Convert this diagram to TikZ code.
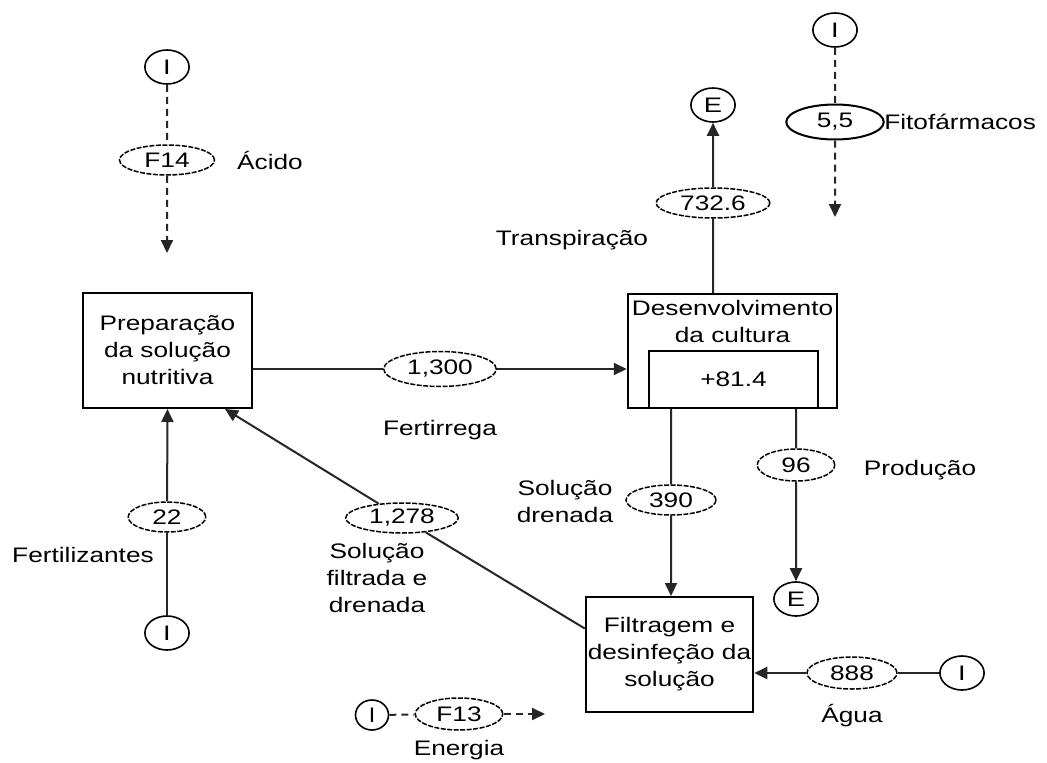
\documentclass[tikz,border=0pt]{standalone}
\usepackage{fontspec}
\setmainfont{Liberation Sans}
\usetikzlibrary{arrows.meta,shapes.geometric,calc}
\begin{document}
\begin{tikzpicture}[x=1pt,y=-1pt,
  every node/.style={font=\fontsize{21}{27}\selectfont, inner sep=0pt, align=center},
  txt/.style={xscale=1.25},
  procbox/.style={draw, line width=2pt, rectangle, xscale=1.25},
  ell/.style={draw, ellipse, line width=1.5pt, dash pattern=on 5pt off 1.5pt, minimum height=30pt, xscale=1.25},
  ellsolid/.style={draw, ellipse, line width=2pt, minimum height=35pt, xscale=1.25},
  circ/.style={draw, circle, line width=1.6pt, minimum size=34pt, xscale=1.3},
  conn/.style={line width=2pt, draw=black!85},
  dline/.style={line width=2pt, draw=black!85, dash pattern=on 7pt off 5pt},
  arr/.style={-{Triangle[length=13pt,width=12pt]}}
]
\useasboundingbox (0,0) rectangle (1047,763);

% process boxes
\node[procbox, minimum width=135.2pt, minimum height=115pt] (prep) at (167.5,350.5) {Preparação\\da solução\\nutritiva};
\node[procbox, minimum width=167.2pt, minimum height=114pt] (dev) at (732.5,351) {};
\node[txt] (devtxt) at (732.5,321) {Desenvolvimento\\da cultura};
\node[procbox, minimum width=135.2pt, minimum height=57pt] (inner) at (733.5,379.5) {+81.4};
\node[procbox, minimum width=133.6pt, minimum height=115pt] (filt) at (669.5,654.5) {Filtragem e\\desinfeção da\\solução};

% source / sink circles
\node[circ] (i1) at (167,67) {I};
\node[circ] (i2) at (835,30) {I};
\node[circ] (eT) at (713,105) {E};
\node[circ] (eB) at (796,599) {E};
\node[circ] (iBL) at (167,633) {I};
\node[circ] (iW) at (962,673) {I};
\node[draw, circle, line width=1.6pt, minimum size=30pt, xscale=1.1] (iE) at (372,715) {I};

% flow ellipses
\node[ell, minimum width=76pt] (f14) at (167,160) {F14};
\node[ellsolid, minimum width=78pt] (e55) at (835,122) {5,5};
\node[ell, minimum width=91pt] (e732) at (713,203) {732.6};
\node[ell, minimum width=90pt, minimum height=35pt] (e1300) at (440,369) {1,300};
\node[ell, minimum width=72pt] (e390) at (671,500) {390};
\node[ell, minimum width=62pt, minimum height=32pt] (e96) at (796,465) {96};
\node[ell, minimum width=72pt, minimum height=32pt] (e888) at (852,673) {888};
\node[ell, minimum width=90pt] (e1278) at (402,518) {1,278};
\node[ell, minimum width=62pt] (e22) at (167,517) {22};
\node[ell, minimum width=70pt, minimum height=32pt] (f13) at (459,714) {F13};

% labels
\node[txt] (lacido) at (270,160) {Ácido};
\node[txt, anchor=west] (lfito) at (884,122) {Fitofármacos};
\node[txt] (ltransp) at (572,240) {Transpiração};
\node[txt] (lfert) at (440,430) {Fertirrega};
\node[txt] (lsold) at (565,501) {Solução\\drenada};
\node[txt] (lprod) at (920,470) {Produção};
\node[txt] (lferti) at (83,555) {Fertilizantes};
\node[txt] (lsolf) at (377,578) {Solução\\filtrada e\\drenada};
\node[txt] (lagua) at (852,716) {Água};
\node[txt] (lener) at (459,750) {Energia};

% free ends
\coordinate (a1) at (167,253);
\coordinate (a2) at (835,217);
\coordinate (aE) at (545,714);

% connectors
\draw[dline] (i1) -- (f14);
\draw[dline, arr] (f14) -- (a1);
\draw[dline] (i2) -- (e55);
\draw[dline, arr] (e55) -- (a2);

\draw[conn] (prep.east |- e1300) -- (e1300);
\draw[conn, arr] (e1300) -- (dev.west |- e1300);

\draw[conn] (dev.north -| e732) -- (e732);
\draw[conn, arr] (e732) -- (eT);

\draw[conn] (dev.south -| e390) -- (e390);
\draw[conn, arr] (e390) -- (filt.north -| e390);

\draw[conn] (dev.south -| e96) -- (e96);
\draw[conn, arr] (e96) -- (eB);

\draw[conn] (iW) -- (e888);
\draw[conn, arr] (e888) -- (filt.east |- e888);

\draw[conn] ([yshift=26pt]filt.west) -- (e1278);
\draw[conn, arr] (e1278) -- ([xshift=57.5pt]prep.south);

\draw[conn] (iBL) -- (e22);
\draw[conn, arr] (e22) -- (prep.south);

\draw[dline] (iE) -- (f13);
\draw[dline, arr] (f13) -- (aE);
\end{tikzpicture}
\end{document}
